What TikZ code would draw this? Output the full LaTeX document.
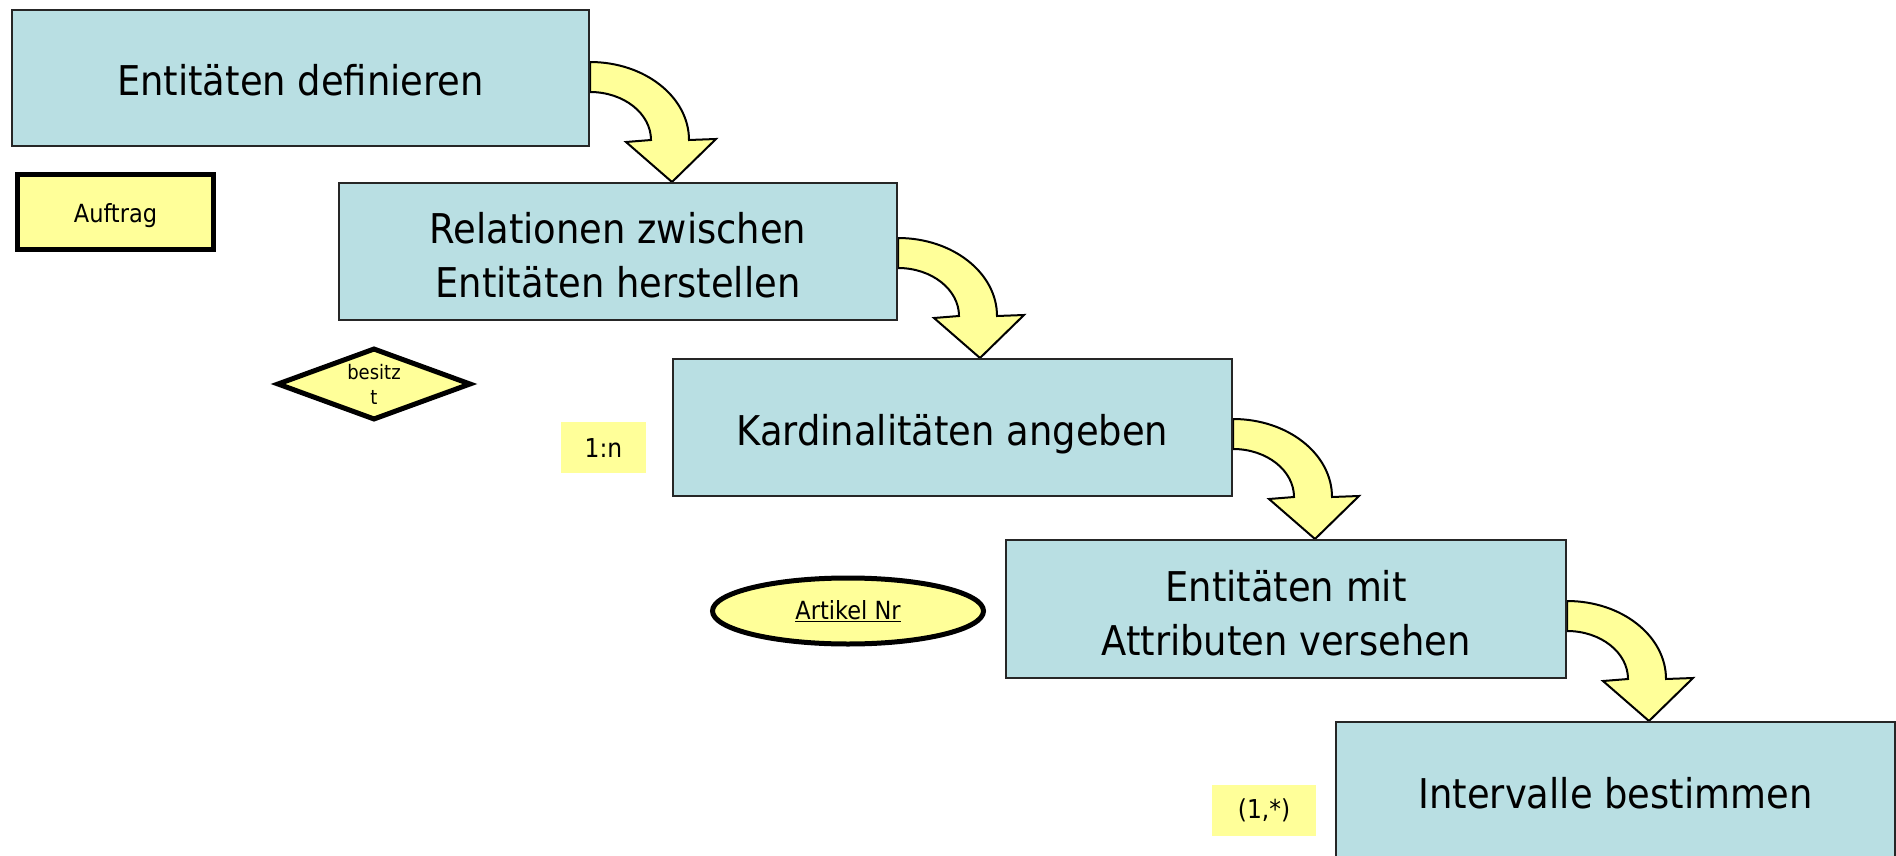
\documentclass[tikz,border=0pt]{standalone}
\usepackage{fontspec}
\setmainfont{DejaVu Sans Condensed}
\usetikzlibrary{backgrounds,shapes.geometric}
\definecolor{boxblue}{HTML}{B9DFE3}
\definecolor{labyellow}{HTML}{FFFF99}
\tikzset{
  bendarrow/.pic={
    \draw[arrowshape] (0,-120) .. controls (54.7,-120) and (99,-85.1) .. (99,-42)
      -- (126,-43) -- (82,0) -- (36,-40) -- (61,-42)
      .. controls (61,-68.5) and (33.7,-90) .. (0,-90) -- cycle;
  }
}
\begin{document}
\begin{tikzpicture}[x=1pt,y=-1pt,
  stepbox/.style={draw=black!85, line width=2pt, fill=boxblue, align=center,
    font=\fontsize{41}{54}\selectfont, inner sep=0pt},
  oneline/.style={text height=35pt, text depth=0pt},
  twoline/.style={text height=93pt},
  entbox/.style={draw=black, line width=5pt, fill=labyellow, inner sep=0pt},
  plainlab/.style={fill=labyellow, inner sep=0pt, font=\fontsize{26}{31}\selectfont},
  arrowshape/.style={draw=black, line width=2pt, fill=labyellow, line join=miter}
]
\useasboundingbox (0,0) rectangle (1896,856);

\node[stepbox,oneline,minimum width=577pt,minimum height=136pt] (b1) at (300.5,78) {Entitäten definieren};
\node[stepbox,twoline,minimum width=558pt,minimum height=137pt] (b2) at (618,251.5) {Relationen zwischen\\Entitäten herstellen};
\node[stepbox,oneline,minimum width=559pt,minimum height=137pt] (b3) at (952.5,427.5) {Kardinalitäten angeben};
\node[stepbox,twoline,minimum width=560pt,minimum height=138pt] (b4) at (1286,609) {Entitäten mit\\Attributen versehen};
\node[stepbox,oneline,minimum width=559pt,minimum height=137pt] (b5) at (1615.5,790.5) {Intervalle bestimmen};

\node[entbox,minimum width=196pt,minimum height=75pt,font=\fontsize{25}{30}\selectfont,
  text height=21pt,text depth=0pt] (auftrag) at (115.5,212) {Auftrag};
\node[entbox,diamond,aspect=2.7,minimum width=194pt,minimum height=72pt,align=center,
  font=\fontsize{20}{25}\selectfont] (besitzt) at (374,384) {besitz\\t};
\node[entbox,ellipse,minimum width=271pt,minimum height=66pt,
  font=\fontsize{25}{30}\selectfont] (artikel) at (848,611) {\underline{Artikel Nr}};
\node[plainlab,minimum width=85pt,minimum height=51pt,text height=19pt,text depth=0pt] (card) at (603.5,447.5) {1:n};
\node[plainlab,minimum width=104pt,minimum height=51pt] (interval) at (1264,810.5) {(1,*)};

\begin{scope}[on background layer]
  \pic at (b1.east |- b2.north) {bendarrow};
  \pic at (b2.east |- b3.north) {bendarrow};
  \pic at (b3.east |- b4.north) {bendarrow};
  \pic at (b4.east |- b5.north) {bendarrow};
\end{scope}
\end{tikzpicture}
\end{document}
